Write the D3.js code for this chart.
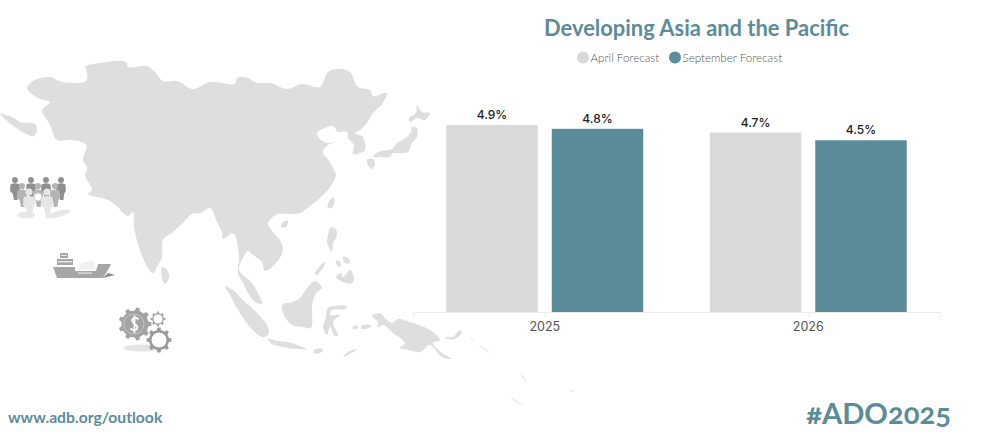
<!DOCTYPE html>
<html>
<head>
<meta charset="utf-8">
<title>Developing Asia and the Pacific</title>
<script src="https://cdn.jsdelivr.net/npm/d3@7"></script>
<style>
html, body { margin: 0; padding: 0; background: #fff; overflow: hidden; }
svg { display: block; }
text { font-family: Lato, sans-serif; }
</style>
</head>
<body>
<div id="chart"></div>
<script>
// chart values
var years = ["2025", "2026"];
var seriesNames = ["April Forecast", "September Forecast"];
var aprilValues = [4.9, 4.7];
var septemberValues = [4.8, 4.5];
var seriesColors = ["#d9d9d9", "#5b8c9a"];

// traced map outlines, in page pixels
var mainland = [[27,88],[35,80],[50,77],[62,82],[86,81],[87,72],[85,67],[100,63],[118,61],[126,62],[128,67],[147,66],[155,72],[163,81],[177,81],[193,89],[210,82],[222,83],[235,84],[237,78],[248,78],[257,83],[270,83],[287,89],[302,84],[320,87],[328,72],[340,69],[350,72],[358,87],[370,90],[373,96],[387,93],[382,104],[373,113],[367,123],[360,130],[355,133],[363,137],[365,150],[360,153],[353,154],[354,145],[348,138],[347,132],[338,132],[333,126],[325,128],[317,133],[320,139],[327,143],[336,142],[328,145],[323,152],[330,162],[334,170],[336,175],[330,187],[320,198],[310,206],[300,213],[288,214],[278,214],[268,223],[273,232],[280,240],[283,250],[277,262],[265,271],[262,262],[253,255],[248,251],[243,258],[239,270],[243,275],[252,283],[258,293],[262,304],[255,302],[248,293],[243,283],[238,273],[239,258],[235,235],[232,233],[223,239],[222,232],[217,222],[210,208],[200,213],[192,214],[183,223],[173,232],[163,240],[162,257],[158,265],[153,273],[148,268],[140,250],[134,228],[133,212],[128,216],[121,211],[118,207],[108,200],[88,194],[92,190],[85,175],[87,168],[83,160],[86,145],[72,140],[57,140],[50,125],[42,110],[50,102],[38,98]];
var islands = [
  [[0,114],[12,117],[20,122],[35,124],[37,130],[34,136],[24,133],[15,127]],
  [[162,267],[167,270],[169,278],[165,284],[162,278]],
  [[283,222],[288,221],[286,227],[281,227]],
  [[332,198],[334,198],[333,207],[328,208],[328,203]],
  [[417,105],[422,112],[430,113],[425,120],[417,118],[410,122],[409,118],[416,113]],
  [[412,127],[417,128],[417,137],[412,143],[408,152],[400,153],[393,153],[390,157],[380,157],[373,157],[378,152],[392,149],[397,143],[407,137],[411,132]],
  [[367,160],[373,159],[375,165],[371,169],[368,165]],
  [[225,286],[233,290],[243,300],[257,313],[268,327],[268,335],[262,337],[250,327],[238,310],[230,295]],
  [[268,339],[278,341],[292,343],[302,347],[307,349],[297,349],[283,347],[272,344]],
  [[314,350],[322,349],[322,352],[314,353]],
  [[343,357],[348,352],[357,349],[348,355]],
  [[315,281],[322,288],[317,292],[313,300],[312,308],[311,328],[303,327],[292,325],[285,317],[282,305],[292,302],[300,298],[307,288]],
  [[328,308],[347,306],[345,309],[332,310],[330,315],[340,315],[333,322],[338,335],[335,336],[330,327],[327,335],[323,327],[326,317]],
  [[330,228],[335,228],[337,235],[333,243],[332,252],[327,242],[328,235]],
  [[343,277],[350,270],[354,278],[352,283],[346,283],[336,277],[341,273]],
  [[336,260],[340,262],[341,267],[337,265]],
  [[343,257],[348,258],[350,263],[345,263]],
  [[315,274],[324,262],[325,263],[317,275]],
  [[372,316],[380,313],[385,318],[392,323],[398,319],[413,323],[430,330],[440,340],[433,343],[442,353],[452,359],[442,357],[430,345],[420,352],[408,350],[400,348],[405,343],[393,333],[383,325],[378,327],[378,322]],
  [[445,337],[453,337],[460,330],[462,332],[455,339],[448,339]],
  [[353,326],[358,326],[358,328],[353,329]],
  [[361,326],[370,325],[371,327],[362,329]]
];
var faintIslands = [
  [[471,337],[475,340],[473,341],[470,339]],
  [[480,345],[490,352],[489,353],[479,347]],
  [[522,373],[527,382],[526,383],[521,375]],
  [[512,397],[523,405],[522,406],[511,399]],
  [[570,390],[574,390],[574,392],[570,392]]
];

// icon figures: [head x, head y]
var peopleBack = [[15,180],[31,180],[46,180],[61,180]];
var peopleMiddle = [[22,186],[38,186],[55,186]];
var peopleFront = [[29,192],[47,192]];

var width = 983, height = 446;
var svg = d3.select("#chart").append("svg")
    .attr("width", width)
    .attr("height", height);

var polygon = d3.line().curve(d3.curveLinearClosed);
var coast = d3.line().curve(d3.curveCatmullRomClosed.alpha(0.5));

//map
var map = svg.append("g");
map.append("path").attr("d", coast(mainland)).attr("fill", "#dedede");
map.selectAll(".island").data(islands).enter().append("path")
    .attr("class", "island")
    .attr("d", coast)
    .attr("fill", "#dedede");
map.selectAll(".faint").data(faintIslands).enter().append("path")
    .attr("class", "faint")
    .attr("d", polygon)
    .attr("fill", "#efefef");

//icons
function drawPeople(g, list, fill, scale) {
    list.forEach(function (p) {
        var f = g.append("g").attr("transform", "translate(" + p[0] + "," + p[1] + ") scale(" + scale + ")");
        f.append("circle").attr("r", 3.1).attr("fill", fill);
        f.append("path")
            .attr("d", "M-3,4 Q0,3 3,4 Q5,4 5,7 L5,12 L3.5,14 L2.5,21 L-1,21 L-2.5,14 L-5,12 L-5,7 Q-5,4 -3,4Z")
            .attr("fill", fill);
    });
}
var people = svg.append("g");
people.append("ellipse").attr("cx", 26).attr("cy", 215).attr("rx", 9).attr("ry", 3.5).attr("fill", "#e8e8e8");
people.append("ellipse").attr("cx", 58).attr("cy", 214).attr("rx", 13).attr("ry", 3).attr("fill", "#e8e8e8")
    .attr("transform", "rotate(-15 58 214)");
drawPeople(people, peopleBack, "#8f8f8f", 0.95);
drawPeople(people, peopleMiddle, "#b4b4b4", 1);
drawPeople(people, peopleFront, "#e6e6e6", 1.15);
people.append("circle").attr("cx", 38).attr("cy", 197).attr("r", 4).attr("fill", "#fff").attr("stroke", "#d0d0d0");

var ship = svg.append("g").attr("fill", "#a6a6a6");
ship.append("path").attr("d", "M78,270 L82,262 L94,261 L96,270Z").attr("fill", "#f1f1f1");
ship.append("path").attr("d", "M53,267 L75,267 L75,271 L96,271 L98,264 L111,264 L108,270 L103,278 L57,278Z");
ship.append("path").attr("d", "M103,278 L115,275 L108,273Z").attr("fill", "#8a8a8a");
ship.append("rect").attr("x", 57).attr("y", 259).attr("width", 16).attr("height", 6);
ship.append("rect").attr("x", 60).attr("y", 253).attr("width", 8).attr("height", 5);
ship.append("rect").attr("x", 58).attr("y", 261).attr("width", 14).attr("height", 1.4).attr("fill", "#e8e8e8");
ship.append("rect").attr("x", 61).attr("y", 255).attr("width", 6).attr("height", 1).attr("fill", "#e8e8e8");
ship.append("rect").attr("x", 78).attr("y", 272.5).attr("width", 14).attr("height", 1.2).attr("fill", "#e8e8e8");

function gearPath(cx, cy, outer, inner, teeth) {
    var pts = [], step = Math.PI * 2 / teeth;
    for (var i = 0; i < teeth; i++) {
        var a = i * step;
        pts.push([cx + inner * Math.cos(a - step * 0.5), cy + inner * Math.sin(a - step * 0.5)]);
        pts.push([cx + inner * Math.cos(a - step * 0.26), cy + inner * Math.sin(a - step * 0.26)]);
        pts.push([cx + outer * Math.cos(a - step * 0.16), cy + outer * Math.sin(a - step * 0.16)]);
        pts.push([cx + outer * Math.cos(a + step * 0.16), cy + outer * Math.sin(a + step * 0.16)]);
        pts.push([cx + inner * Math.cos(a + step * 0.26), cy + inner * Math.sin(a + step * 0.26)]);
    }
    return polygon(pts);
}
var gears = svg.append("g");
gears.append("ellipse").attr("cx", 143).attr("cy", 348).attr("rx", 20).attr("ry", 3.5).attr("fill", "#e4e4e4");
gears.append("path").attr("d", gearPath(135, 324, 16.5, 13.5, 9)).attr("fill", "#a3a3a3");
gears.append("circle").attr("cx", 134).attr("cy", 324).attr("r", 10).attr("fill", "none").attr("stroke", "#d5d5d5").attr("stroke-width", 0.7);
gears.append("path")
    .attr("d", "M138.5,319.5 Q136,317 133.5,318 Q130.5,320 134,323.5 Q138.5,326 137,329 Q134,331.5 130.5,328.5 M134.5,315.5 L134.5,333")
    .attr("fill", "none").attr("stroke", "#fff").attr("stroke-width", 1.8);
gears.append("path").attr("d", gearPath(158, 319, 7.5, 5.8, 8)).attr("fill", "#a3a3a3");
gears.append("circle").attr("cx", 158).attr("cy", 319).attr("r", 4.6).attr("fill", "#fff");
gears.append("path").attr("d", gearPath(159, 340, 12.5, 10, 8)).attr("fill", "#9a9a9a");
gears.append("circle").attr("cx", 159).attr("cy", 340).attr("r", 7.5).attr("fill", "#fff");

//title and legend
svg.append("text")
    .attr("x", 696.5).attr("y", 36)
    .attr("text-anchor", "middle")
    .attr("font-size", 21.9)
    .attr("font-weight", 700)
    .attr("fill", "#5b8c9a")
    .text("Developing Asia and the Pacific");

var legendX = d3.scaleOrdinal().domain(seriesNames).range([583, 675]);
var legend = svg.selectAll(".legend").data(seriesNames).enter().append("g").attr("class", "legend");
legend.append("circle")
    .attr("cx", function (d) { return legendX(d); })
    .attr("cy", 57.5)
    .attr("r", 6)
    .attr("fill", function (d, i) { return seriesColors[i]; });
legend.append("text")
    .attr("x", function (d) { return legendX(d) + 7.5; })
    .attr("y", 62)
    .attr("font-size", 11.6)
    .attr("font-weight", 300)
    .attr("fill", "#555")
    .text(function (d) { return d; });

//bars
var axisY = 312;
var x0 = d3.scaleBand().domain(years).range([413, 940]).paddingInner(0.2525).paddingOuter(0.12625);
var x1 = d3.scaleBand().domain(seriesNames).range([0, x0.bandwidth()]).paddingInner(0.133);
var y = d3.scaleLinear().domain([0, 4.9]).range([axisY, 125]);

var rows = years.map(function (year, i) {
    return { year: year, values: [aprilValues[i], septemberValues[i]] };
});
var groups = svg.selectAll(".year").data(rows).enter().append("g")
    .attr("class", "year")
    .attr("transform", function (d) { return "translate(" + x0(d.year) + ",0)"; });
var cells = groups.selectAll(".cell")
    .data(function (d) {
        return d.values.map(function (v, i) { return { name: seriesNames[i], value: v, color: seriesColors[i] }; });
    })
    .enter().append("g").attr("class", "cell");
cells.append("rect")
    .attr("x", function (d) { return x1(d.name); })
    .attr("y", function (d) { return y(d.value); })
    .attr("width", x1.bandwidth())
    .attr("height", function (d) { return axisY - y(d.value); })
    .attr("fill", function (d) { return d.color; });
cells.append("text")
    .attr("x", function (d) { return x1(d.name) + x1.bandwidth() / 2; })
    .attr("y", function (d) { return y(d.value) - 6; })
    .attr("text-anchor", "middle")
    .attr("font-size", 12)
    .attr("font-weight", 500)
    .attr("fill", "#222")
    .style("font-family", "Inter, sans-serif")
    .text(function (d) { return d3.format(".1f")(d.value) + "%"; });

//axis
var axis = svg.append("g")
    .attr("transform", "translate(0," + axisY + ")")
    .call(d3.axisBottom(x0).tickSizeOuter(0).tickSize(5).tickPadding(5));
axis.select(".domain").attr("stroke", "#ececec");
axis.selectAll(".tick line").attr("stroke", "#ececec");
axis.selectAll(".tick text")
    .style("font-family", "Inter, sans-serif")
    .attr("font-size", 12.5)
    .attr("fill", "#555");

//footer
svg.append("text")
    .attr("x", 8).attr("y", 423)
    .attr("font-size", 15.7)
    .attr("font-weight", 700)
    .attr("fill", "#5b8c9a")
    .text("www.adb.org/outlook");
svg.append("text")
    .attr("x", 951).attr("y", 424)
    .attr("text-anchor", "end")
    .attr("font-size", 29.2)
    .attr("font-weight", 700)
    .attr("fill", "#5b8c9a")
    .style("font-variant-numeric", "oldstyle-nums")
    .text("#ADO2025");
</script>
</body>
</html>
